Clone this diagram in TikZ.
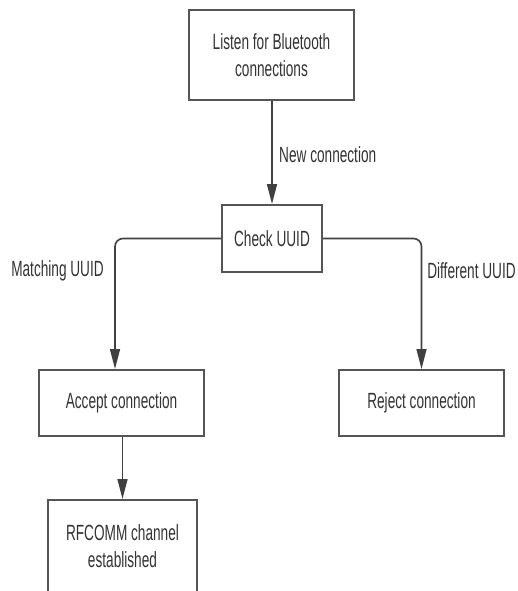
\documentclass[tikz,border=0pt]{standalone}
\usepackage{fontspec}
\setmainfont{Liberation Sans}[FakeStretch=0.62]
\usetikzlibrary{arrows.meta}
\definecolor{ink}{HTML}{333333}
\definecolor{edge}{HTML}{555555}
\definecolor{wire}{HTML}{404040}
\tikzset{
  stepbox/.style={draw=edge, line width=2pt, fill=white, text=ink,
    minimum width=#1, align=center, inner sep=0pt,
    font=\fontsize{22}{27}\selectfont},
  flow/.style={draw=wire, line width=1.6pt,
    -{Triangle[length=20pt,width=10pt]}, rounded corners=8pt},
  tag/.style={text=ink, inner sep=0pt, font=\fontsize{22}{27}\selectfont},
}
\begin{document}
\begin{tikzpicture}[x=1pt, y=-1pt]
  \useasboundingbox (0,0) rectangle (517,591);
  \begin{scope}
  \clip (0,0) rectangle (517,591);
  % process boxes
  \node[stepbox=165pt, minimum height=90pt] (listen) at (271.5,55) {Listen for Bluetooth\\connections};
  \node[stepbox=100pt, minimum height=67pt] (check) at (272,238.5) {Check UUID};
  \node[stepbox=165pt, minimum height=66pt] (accept) at (121.5,403) {Accept connection};
  \node[stepbox=165pt, minimum height=66pt] (reject) at (421.5,403) {Reject connection};
  \node[stepbox=149pt, minimum height=92pt] (rfcomm) at (122.5,546) {RFCOMM channel\\established};
  % connectors
  \draw[flow] (listen.south -| check.north) -- (check.north);
  \draw[flow] (check.west) -| ([xshift=-6.5pt]accept.north);
  \draw[flow] (check.east) -| (reject.north);
  \draw[flow] (accept.south -| rfcomm.north) -- (rfcomm.north);
  % edge labels
  \node[tag, anchor=west] (lnew) at (279,155) {New connection};
  \node[tag] (lmatch) at (57.5,271) {Matching UUID};
  \node[tag] (ldiff) at (471.5,271) {Different UUID};
  \end{scope}
\end{tikzpicture}
\end{document}
